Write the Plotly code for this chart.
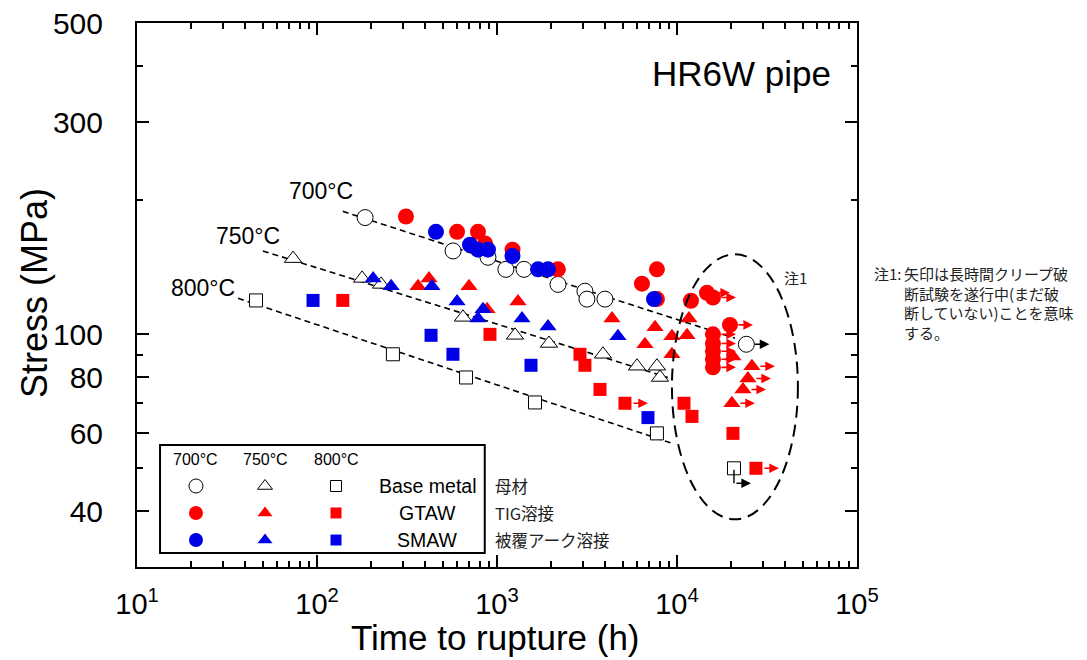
import math
import plotly.graph_objects as go

# ---------------- data ----------------
# 700 °C
t700_base = [185, 570, 891, 1120, 1413, 2183, 3080, 3160, 3980]
s700_base = [183, 154, 149, 140, 140, 129.5, 125, 120, 120]
t700_base_ro = [24300]
s700_base_ro = [95]

t700_gtaw = [312, 600, 784, 858, 1220, 2180, 6390, 7740, 7740, 11960]
s700_gtaw = [184, 170, 170, 160, 155, 140, 130, 140, 120, 119]
t700_gtaw_ro = [14680, 15850, 19700, 15850, 15850, 15850, 15850, 15850]
s700_gtaw_ro = [124, 121, 105, 100, 95.4, 91.6, 87.9, 84.3]

t700_smaw = [458, 708, 784, 891, 1219, 1690, 1920, 7450]
s700_smaw = [170, 159, 155, 155, 150, 140, 140, 120]

# 750 °C
t750_base = [73.6, 178, 227, 647, 1259, 1945, 3880, 5995, 7740, 8050]
s750_base = [148, 133.6, 129.5, 109.2, 99.5, 95.4, 90.2, 84.8, 84.8, 80.0]

t750_gtaw = [364, 419, 699, 880, 1308, 4355, 6640, 7550, 9380, 9380, 11370, 11660, 20470]
s750_gtaw = [128.2, 133.6, 128.2, 113.8, 118.6, 108.6, 95, 103.7, 99, 90.2, 99.5, 108.6, 89.2]
t750_gtaw_ro = [26100, 24800, 23270, 20200]
s750_gtaw_ro = [84.8, 79.6, 75.2, 70.0]

t750_smaw = [205, 258, 435, 600, 836, 784, 1377, 1920, 4700]
s750_smaw = [133.6, 128.2, 128.2, 118.6, 113.8, 108.6, 108.6, 104.2, 99]

# 800 °C
t800_base = [45.8, 264, 673, 1626, 7740]
s800_base = [119.2, 90.2, 80.0, 70.3, 59.9]
t800_base_ro = [20740]
s800_base_ro = [50.0]

t800_gtaw = [139, 914, 2891, 3080, 3735, 10940, 12120, 20470]
s800_gtaw = [119.2, 100, 90.2, 85.2, 75.2, 70.0, 65.4, 59.9]
t800_gtaw_ro = [5140, 27470]
s800_gtaw_ro = [70.0, 50.0]

t800_smaw = [95, 430, 569, 1545, 6900]
s800_smaw = [119.2, 99.5, 90.2, 85.2, 65.0]

# trend lines (dashed)
trend700_t = [139, 21000]
trend700_s = [189, 98]
trend750_t = [50, 8900]
trend750_s = [154, 80]
trend800_t = [36.4, 9380]
trend800_s = [120.5, 56.9]

temp_labels = ["700°C", "750°C", "800°C"]
row_labels = ["Base metal", "GTAW", "SMAW"]
row_labels_jp = ["母材", "TIG溶接", "被覆アーク溶接"]
x_tickvals = [10, 100, 1000, 10000, 100000]
x_ticktext = ["10<sup>1</sup>", "10<sup>2</sup>", "10<sup>3</sup>", "10<sup>4</sup>", "10<sup>5</sup>"]
y_tickvals = [40, 60, 80, 100, 300, 500]
y_ticktext = ["40", "60", "80", "100", "300", "500"]
y_minor = [50, 70, 90, 200, 400]
x_minor = [m * 10 ** k for k in range(1, 5) for m in range(2, 10)]

x_title = "Time to rupture (h)"
y_title = "Stress (MPa)"
note_head = "注1:"
note_body = "矢印は長時間クリープ破<br>断試験を遂行中(まだ破<br>断していない)ことを意味<br>する。"

# ---------------- styles ----------------
RED = "#FF0000"
BLUE = "#0000E6"
FONT = "Arial, 'Liberation Sans', sans-serif"
JP = "'Noto Sans CJK JP', sans-serif"
SYM = {"700": "circle", "750": "triangle-up", "800": "square"}
SIZE = {"700": 16, "750": 15, "800": 13}

fig = go.Figure()

for tt, ss in [(trend700_t, trend700_s), (trend750_t, trend750_s), (trend800_t, trend800_s)]:
    fig.add_trace(go.Scatter(x=tt, y=ss, mode="lines",
                             line=dict(color="black", width=1.6, dash="6px,4px"),
                             hoverinfo="skip", showlegend=False))


def add_pts(t, s, temp, kind):
    if kind == "base":
        marker = dict(symbol=SYM[temp], size=SIZE[temp], color="white",
                      line=dict(color="black", width=1))
    else:
        marker = dict(symbol=SYM[temp], size=SIZE[temp],
                      color=RED if kind == "gtaw" else BLUE, line=dict(width=0))
    fig.add_trace(go.Scatter(x=t, y=s, mode="markers", marker=marker,
                             showlegend=False, cliponaxis=False))


annotations = []


def add_arrows(t, s, color):
    for ti, si in zip(t, s):
        annotations.append(dict(x=math.log10(ti), y=math.log10(si), xref="x", yref="y",
                                text="", showarrow=True, ax=-16, ay=0, xshift=23,
                                arrowhead=2, arrowsize=1.2, arrowwidth=1.6,
                                arrowcolor=color, standoff=0, startstandoff=0))


# base metal
add_pts(t700_base + t700_base_ro, s700_base + s700_base_ro, "700", "base")
add_pts(t750_base, s750_base, "750", "base")
add_pts(t800_base + t800_base_ro, s800_base + s800_base_ro, "800", "base")
# GTAW
add_pts(t700_gtaw + t700_gtaw_ro, s700_gtaw + s700_gtaw_ro, "700", "gtaw")
add_pts(t750_gtaw + t750_gtaw_ro, s750_gtaw + s750_gtaw_ro, "750", "gtaw")
add_pts(t800_gtaw + t800_gtaw_ro, s800_gtaw + s800_gtaw_ro, "800", "gtaw")
# SMAW
add_pts(t700_smaw, s700_smaw, "700", "smaw")
add_pts(t750_smaw, s750_smaw, "750", "smaw")
add_pts(t800_smaw, s800_smaw, "800", "smaw")

add_arrows(t700_base_ro, s700_base_ro, "black")
add_arrows(t700_gtaw_ro, s700_gtaw_ro, RED)
add_arrows(t750_gtaw_ro, s750_gtaw_ro, RED)
add_arrows(t800_gtaw_ro, s800_gtaw_ro, RED)
# 800 °C base-metal run-out: L-shaped arrow below the marker
for ti, si in zip(t800_base_ro, s800_base_ro):
    annotations.append(dict(x=math.log10(ti), y=math.log10(si), xref="x", yref="y",
                            text="", showarrow=True, ax=0, ay=-15, yshift=-15,
                            arrowhead=0, arrowwidth=1.4, arrowcolor="black"))
    annotations.append(dict(x=math.log10(ti), y=math.log10(si), xref="x", yref="y",
                            text="", showarrow=True, ax=-16, ay=0, yshift=-15, xshift=17,
                            arrowhead=2, arrowsize=1.2, arrowwidth=1.6, arrowcolor="black",
                            standoff=0))

# ---------------- legend panel (overlay axes 0..1) ----------------
leg_x = [0.0819, 0.1778, 0.2764]
leg_y = [0.1489, 0.0993, 0.0496]
temps = ["700", "750", "800"]
for r, kind in enumerate(["base", "gtaw", "smaw"]):
    for c, temp in enumerate(temps):
        if kind == "base":
            mk = dict(symbol=SYM[temp], size=SIZE[temp] - 2, color="white",
                      line=dict(color="black", width=1))
        else:
            mk = dict(symbol=SYM[temp], size=SIZE[temp] - 2,
                      color=RED if kind == "gtaw" else BLUE, line=dict(width=0))
        fig.add_trace(go.Scatter(x=[leg_x[c]], y=[leg_y[r]], mode="markers", marker=mk,
                                 xaxis="x2", yaxis="y2", showlegend=False, hoverinfo="skip"))

for c, lab in enumerate(temp_labels):
    annotations.append(dict(x=leg_x[c], y=0.1967, xref="paper", yref="paper", text=lab,
                            xanchor="center", yanchor="middle", showarrow=False,
                            font=dict(family=FONT, size=16, color="black")))
for r, lab in enumerate(row_labels):
    annotations.append(dict(x=0.404, y=leg_y[r], xref="paper", yref="paper", text=lab,
                            xanchor="center", yanchor="middle", showarrow=False,
                            font=dict(family=FONT, size=19.5, color="black")))
for r, lab in enumerate(row_labels_jp):
    annotations.append(dict(x=0.494, y=leg_y[r], xref="paper", yref="paper", text=lab,
                            xanchor="left", yanchor="middle", showarrow=False,
                            font=dict(family=JP, size=16.5, color="#222222")))

# ---------------- text labels inside the plot ----------------
for lab, lx, ly in [(temp_labels[0], 2.022, 2.3213), (temp_labels[1], 1.617, 2.2202),
                    (temp_labels[2], 1.367, 2.1034)]:
    annotations.append(dict(x=lx, y=ly, xref="x", yref="y", text=lab, showarrow=False,
                            font=dict(family=FONT, size=23, color="black")))
annotations.append(dict(x=4.356, y=2.5865, xref="x", yref="y", text="HR6W pipe",
                        showarrow=False, font=dict(family=FONT, size=35, color="black")))
annotations.append(dict(x=4.656, y=2.128, xref="x", yref="y", text="注1",
                        showarrow=False, font=dict(family=JP, size=15, color="#222222")))
annotations.append(dict(x=1.0208, y=0.5623, xref="paper", yref="paper", text=note_head,
                        xanchor="left", yanchor="top", align="left", showarrow=False,
                        font=dict(family=JP, size=15, color="#222222")))
annotations.append(dict(x=1.0625, y=0.5623, xref="paper", yref="paper", text=note_body,
                        xanchor="left", yanchor="top", align="left", showarrow=False,
                        font=dict(family=JP, size=15, color="#222222")))
# axis titles
annotations.append(dict(x=0.4986, y=-0.1305, xref="paper", yref="paper", text=x_title,
                        xanchor="center", yanchor="middle", showarrow=False,
                        font=dict(family=FONT, size=35, color="black")))
annotations.append(dict(x=-0.1415, y=0.5037, xref="paper", yref="paper", text=y_title,
                        textangle=-90, xanchor="center", yanchor="middle", showarrow=False,
                        font=dict(family=FONT, size=36, color="black")))

shapes = [
    # legend frame
    dict(type="rect", xref="paper", yref="paper", x0=0.032, x1=0.483, y0=0.0257, y1=0.2243,
         line=dict(color="black", width=2), fillcolor="white", layer="below"),
    # dashed ellipse around run-out data
    dict(type="circle", xref="x", yref="y", x0=9380, x1=47000, y0=38.4, y1=151.3,
         line=dict(color="black", width=2, dash="12px,7px"), layer="above"),
]

axis_common = dict(showline=True, linecolor="black", linewidth=2, mirror="ticks",
                   ticks="inside", ticklen=12, tickwidth=1.5, tickcolor="black",
                   showgrid=False, zeroline=False, tickmode="array", automargin=False,
                   ticklabeloverflow="allow")

fig.update_layout(
    width=1087, height=660,
    margin=dict(l=129, r=238, t=15, b=101, autoexpand=False),
    paper_bgcolor="white", plot_bgcolor="white",
    font=dict(family=FONT, color="black"),
    showlegend=False,
    xaxis=dict(type="log", range=[0.9995, 5.0005], tickvals=x_tickvals, ticktext=x_ticktext,
               tickfont=dict(size=29), ticklabelstandoff=10,
               minor=dict(tickmode="array", tickvals=x_minor, ticks="inside", ticklen=6,
                          tickwidth=1.5, tickcolor="black", showgrid=False),
               **axis_common),
    yaxis=dict(type="log", range=[math.log10(30), math.log10(500) + 0.0008],
               tickvals=y_tickvals, ticktext=y_ticktext, tickfont=dict(size=30),
               ticklabelstandoff=26,
               minor=dict(tickmode="array", tickvals=y_minor, ticks="inside", ticklen=6,
                          tickwidth=1.5, tickcolor="black", showgrid=False),
               **axis_common),
    xaxis2=dict(overlaying="x", range=[0, 1], visible=False),
    yaxis2=dict(overlaying="y", range=[0, 1], visible=False),
    annotations=annotations,
    shapes=shapes,
)

fig.write_html("out.html")
